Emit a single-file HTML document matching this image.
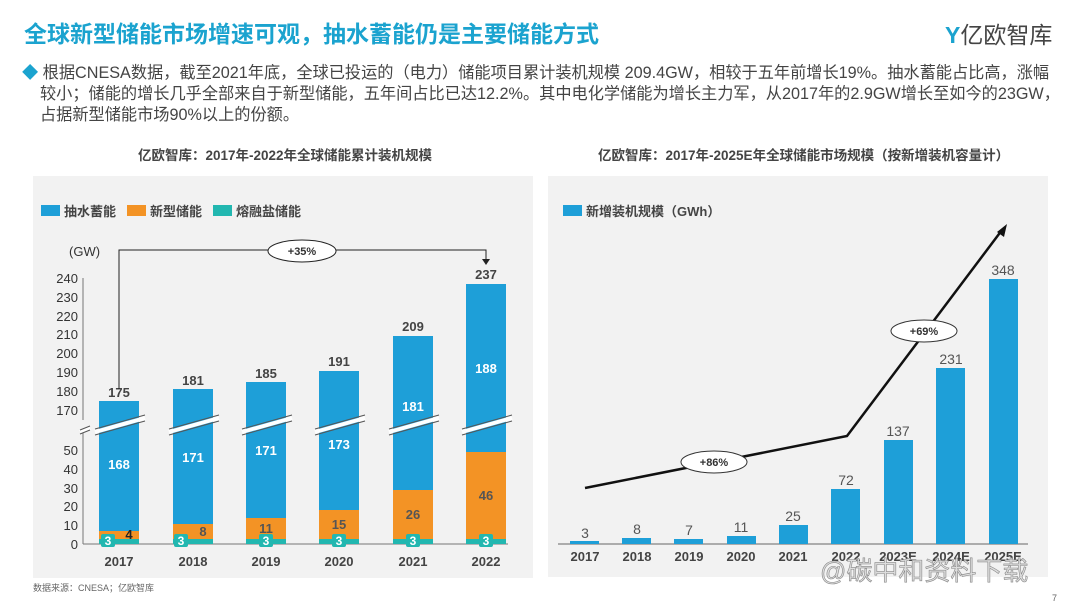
<!DOCTYPE html>
<html><head><meta charset="utf-8"><style>
body{margin:0;width:1080px;height:607px;background:#fff;overflow:hidden;font-family:"Liberation Sans","Noto Sans CJK SC",sans-serif;position:relative}
.a{position:absolute;white-space:nowrap}
</style></head><body>
<div class="a" style="left:24px;top:15px;font-size:23px;font-weight:bold;color:#1ba3cf">全球新型储能市场增速可观，抽水蓄能仍是主要储能方式</div>
<div class="a" style="left:945px;top:16px;font-size:23px;color:#444"><span style="color:#1ba3cf;font-weight:bold">Y</span>亿欧智库</div>
<div class="a" style="left:22px;top:63px;font-size:16.2px;line-height:21px;color:#444;white-space:normal;width:1058px"><span style="color:#1ba3cf">◆</span> 根据CNESA数据，截至2021年底，全球已投运的（电力）储能项目累计装机规模 209.4GW，相较于五年前增长19%。抽水蓄能占比高，涨幅<br>&nbsp;&nbsp;&nbsp;&nbsp;较小；储能的增长几乎全部来自于新型储能，五年间占比已达12.2%。其中电化学储能为增长主力军，从2017年的2.9GW增长至如今的23GW，<br>&nbsp;&nbsp;&nbsp;&nbsp;占据新型储能市场90%以上的份额。</div>
<div class="a" style="left:138px;top:144px;font-size:13.5px;font-weight:bold;color:#444">亿欧智库：2017年-2022年全球储能累计装机规模</div>
<div class="a" style="left:598px;top:144px;font-size:13.5px;font-weight:bold;color:#444">亿欧智库：2017年-2025E年全球储能市场规模（按新增装机容量计）</div>
<svg class="a" style="left:0;top:0" width="1080" height="607" font-family="Liberation Sans,Noto Sans CJK SC,sans-serif">
<rect x="33" y="176" width="500" height="402" fill="#f2f2f2"/>
<rect x="548" y="176" width="500" height="401" fill="#f2f2f2"/>
<rect x="41" y="205" width="19" height="11" fill="#1e9fd8"/><text x="64" y="216" font-size="13" font-weight="bold" fill="#444">抽水蓄能</text>
<rect x="127" y="205" width="19" height="11" fill="#f39325"/><text x="150" y="216" font-size="13" font-weight="bold" fill="#444">新型储能</text>
<rect x="213" y="205" width="19" height="11" fill="#22b7b0"/><text x="236" y="216" font-size="13" font-weight="bold" fill="#444">熔融盐储能</text>
<text x="69" y="256" font-size="13" fill="#333">(GW)</text>
<g font-size="13" fill="#333" text-anchor="end">
<text x="78" y="283">240</text><text x="78" y="302">230</text><text x="78" y="321">220</text><text x="78" y="339">210</text><text x="78" y="358">200</text><text x="78" y="377">190</text><text x="78" y="396">180</text><text x="78" y="415">170</text>
<text x="78" y="455">50</text><text x="78" y="474">40</text><text x="78" y="493">30</text><text x="78" y="511">20</text><text x="78" y="530">10</text><text x="78" y="549">0</text></g>
<line x1="83" y1="278" x2="83" y2="420" stroke="#777"/><line x1="83" y1="432" x2="83" y2="544" stroke="#777"/>
<line x1="83" y1="544" x2="508" y2="544" stroke="#777"/>
<g>
<rect x="99" y="401" width="40" height="130" fill="#1e9fd8"/><rect x="99" y="531" width="40" height="8" fill="#f39325"/><rect x="99" y="539" width="40" height="5" fill="#22b7b0"/>
<rect x="173" y="389" width="40" height="135" fill="#1e9fd8"/><rect x="173" y="524" width="40" height="15" fill="#f39325"/><rect x="173" y="539" width="40" height="5" fill="#22b7b0"/>
<rect x="246" y="382" width="40" height="136" fill="#1e9fd8"/><rect x="246" y="518" width="40" height="21" fill="#f39325"/><rect x="246" y="539" width="40" height="5" fill="#22b7b0"/>
<rect x="319" y="371" width="40" height="139" fill="#1e9fd8"/><rect x="319" y="510" width="40" height="29" fill="#f39325"/><rect x="319" y="539" width="40" height="5" fill="#22b7b0"/>
<rect x="393" y="336" width="40" height="154" fill="#1e9fd8"/><rect x="393" y="490" width="40" height="49" fill="#f39325"/><rect x="393" y="539" width="40" height="5" fill="#22b7b0"/>
<rect x="466" y="284" width="40" height="168" fill="#1e9fd8"/><rect x="466" y="452" width="40" height="87" fill="#f39325"/><rect x="466" y="539" width="40" height="5" fill="#22b7b0"/>
</g>
<g stroke="#fff" stroke-width="4" fill="none">
<path d="M80 432 L90 428 M95 432 L145 418 M169 432 L219 418 M242 432 L292 418 M315 432 L365 418 M389 432 L439 418 M462 432 L512 418"/></g>
<g stroke="#555" stroke-width="1" fill="none">
<path d="M80 430 L90 426 M80 434 L90 430 M95 429 L145 415 M95 435 L145 421 M169 429 L219 415 M169 435 L219 421 M242 429 L292 415 M242 435 L292 421 M315 429 L365 415 M315 435 L365 421 M389 429 L439 415 M389 435 L439 421 M462 429 L512 415 M462 435 L512 421"/></g>
<g font-size="13" font-weight="bold" fill="#444" text-anchor="middle">
<text x="119" y="397">175</text><text x="193" y="385">181</text><text x="266" y="378">185</text><text x="339" y="366">191</text><text x="413" y="331">209</text><text x="486" y="279">237</text></g>
<g font-size="13" font-weight="bold" fill="#fff" text-anchor="middle">
<text x="119" y="469">168</text><text x="193" y="462">171</text><text x="266" y="455">171</text><text x="339" y="449">173</text><text x="413" y="411">181</text><text x="486" y="373">188</text></g>
<g font-size="13" font-weight="bold" fill="#555" text-anchor="middle">
<text x="129" y="539" fill="#222">4</text><text x="203" y="536">8</text><text x="266" y="533">11</text><text x="339" y="529">15</text><text x="413" y="519">26</text><text x="486" y="500">46</text></g>
<g fill="#22b7b0"><rect x="101" y="534" width="14" height="13" rx="2"/><rect x="174" y="534" width="14" height="13" rx="2"/><rect x="259" y="534" width="14" height="13" rx="2"/><rect x="332" y="534" width="14" height="13" rx="2"/><rect x="406" y="534" width="14" height="13" rx="2"/><rect x="479" y="534" width="14" height="13" rx="2"/></g>
<g font-size="12" font-weight="bold" fill="#fff" text-anchor="middle"><text x="108" y="545">3</text><text x="181" y="545">3</text><text x="266" y="545">3</text><text x="339" y="545">3</text><text x="413" y="545">3</text><text x="486" y="545">3</text></g>
<g font-size="13" font-weight="bold" fill="#444" text-anchor="middle"><text x="119" y="566">2017</text><text x="193" y="566">2018</text><text x="266" y="566">2019</text><text x="339" y="566">2020</text><text x="413" y="566">2021</text><text x="486" y="566">2022</text></g>
<path d="M119 389 V250 H486 V260" fill="none" stroke="#222"/><path d="M482 259 L490 259 L486 265Z" fill="#222"/>
<ellipse cx="302" cy="251" rx="34" ry="11" fill="#fff" stroke="#222"/><text x="302" y="255" font-size="11" font-weight="bold" text-anchor="middle" fill="#333">+35%</text>
<rect x="563" y="205" width="19" height="11" fill="#1e9fd8"/><text x="586" y="216" font-size="13" font-weight="bold" fill="#444">新增装机规模（GWh）</text>
<line x1="558" y1="544" x2="1028" y2="544" stroke="#666"/>
<g fill="#1e9fd8">
<rect x="570" y="541" width="29" height="3"/><rect x="622" y="538" width="29" height="6"/><rect x="674" y="539" width="29" height="5"/><rect x="727" y="536" width="29" height="8"/><rect x="779" y="525" width="29" height="19"/><rect x="831" y="489" width="29" height="55"/><rect x="884" y="440" width="29" height="104"/><rect x="936" y="368" width="29" height="176"/><rect x="989" y="279" width="29" height="265"/></g>
<g font-size="14" fill="#555" text-anchor="middle"><text x="585" y="538">3</text><text x="637" y="534">8</text><text x="689" y="535">7</text><text x="741" y="532">11</text><text x="793" y="521">25</text><text x="846" y="485">72</text><text x="898" y="436">137</text><text x="951" y="364">231</text><text x="1003" y="275">348</text></g>
<g font-size="13" font-weight="bold" fill="#444" text-anchor="middle"><text x="585" y="561">2017</text><text x="637" y="561">2018</text><text x="689" y="561">2019</text><text x="741" y="561">2020</text><text x="793" y="561">2021</text><text x="846" y="561">2022</text><text x="898" y="561">2023E</text><text x="951" y="561">2024E</text><text x="1003" y="561">2025E</text></g>
<path d="M585 488 L847 436 L1002 230" fill="none" stroke="#111" stroke-width="2.5"/>
<path d="M997 232 L1007 224 L1004 237Z" fill="#111"/>
<ellipse cx="714" cy="462" rx="33" ry="11" fill="#fff" stroke="#333"/><text x="714" y="466" font-size="11" font-weight="bold" text-anchor="middle" fill="#333">+86%</text>
<ellipse cx="924" cy="331" rx="33" ry="11" fill="#fff" stroke="#333"/><text x="924" y="335" font-size="11" font-weight="bold" text-anchor="middle" fill="#333">+69%</text>
<text x="820" y="580" font-size="26" fill="#ddd" stroke="#888" stroke-width="0.6">@碳中和资料下载</text>
<text x="33" y="591" font-size="9" fill="#666">数据来源：CNESA；亿欧智库</text>
<text x="1052" y="601" font-size="9" fill="#666">7</text>
</svg>
</body></html>
